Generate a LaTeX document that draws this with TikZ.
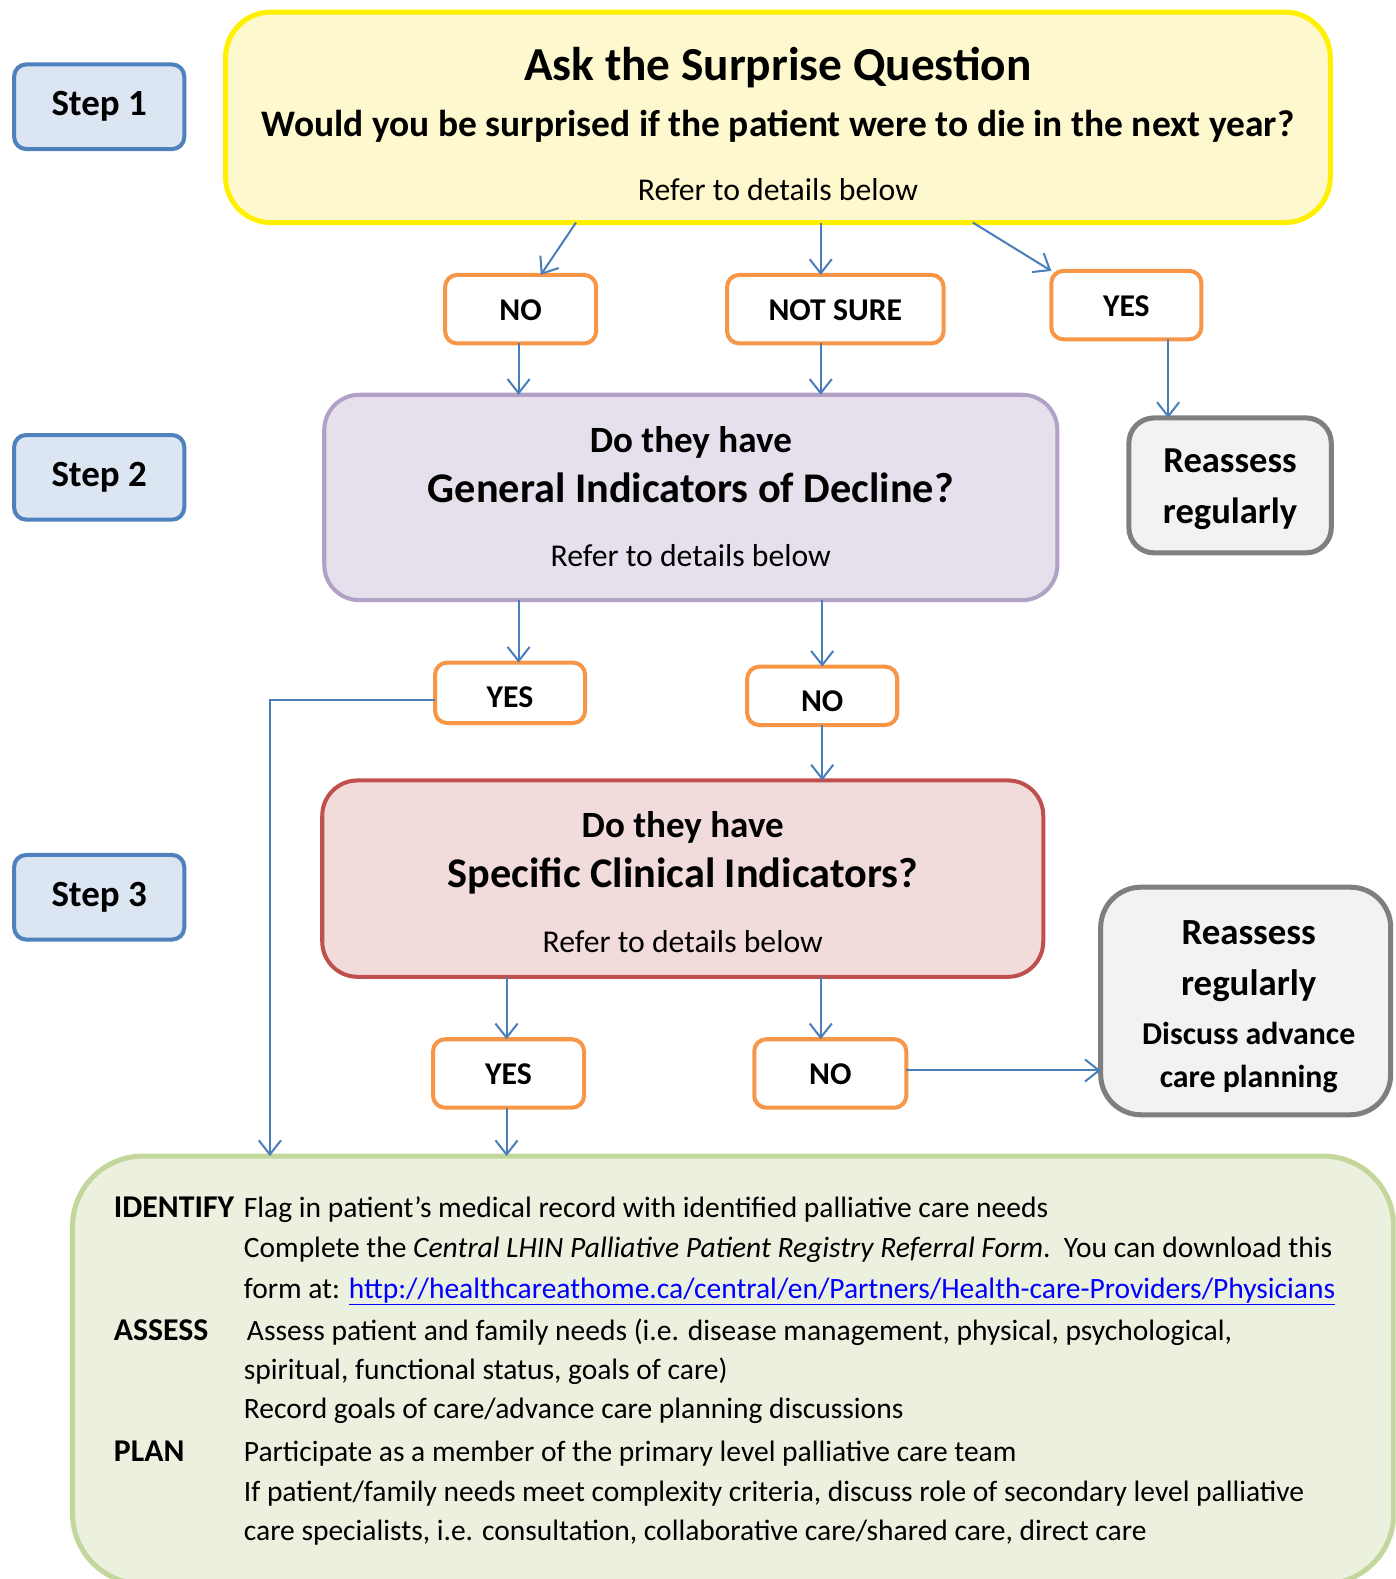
\documentclass[tikz,border=0pt]{standalone}
\usepackage{fontspec}
\setmainfont{Carlito}
\usetikzlibrary{arrows.meta,calc}
\definecolor{yelfill}{RGB}{254,248,206}
\definecolor{yelline}{RGB}{255,240,0}
\definecolor{stepfill}{RGB}{220,230,242}
\definecolor{stepline}{RGB}{79,129,189}
\definecolor{orangeb}{RGB}{247,150,70}
\definecolor{purfill}{RGB}{229,224,236}
\definecolor{purline}{RGB}{178,161,199}
\definecolor{redfill}{RGB}{242,220,219}
\definecolor{redline}{RGB}{192,80,77}
\definecolor{grayfill}{RGB}{242,242,242}
\definecolor{grayline}{RGB}{127,127,127}
\definecolor{grnfill}{RGB}{235,241,222}
\definecolor{grnline}{RGB}{195,214,155}
\definecolor{arrblue}{RGB}{74,126,187}
\definecolor{urlblue}{RGB}{0,0,255}
\newcommand{\fs}[2]{\fontsize{#1}{#2}\selectfont}
\begin{document}
\begin{tikzpicture}[x=1pt,y=-1pt,
  box/.style={draw, rounded corners, inner sep=0pt, outer sep=0pt},
  stepbox/.style={box, fill=stepfill, draw=stepline, line width=4pt, rounded corners=12pt, minimum width=169pt, minimum height=84pt},
  obox/.style={box, fill=white, draw=orangeb, line width=4pt, rounded corners=12pt, minimum height=68pt},
  arr/.style={draw=arrblue, line width=2pt, -{Straight Barb[length=14pt,width=22pt,line width=2pt]}},
  txt/.style={anchor=base, inner sep=0pt},
  lbl/.style={anchor=base west, inner sep=0pt, font=\fs{31.5}{38}\bfseries},
  body/.style={anchor=base west, inner sep=0pt, font=\fs{29.3}{36}},
  steptxt/.style={txt, font=\fs{36.7}{44}\bfseries},
  otxt/.style={txt, font=\fs{31.5}{38}\bfseries}
]
\useasboundingbox (0,0) rectangle (1386,1568);
\clip (0,0) rectangle (1386,1568);

% Step boxes
\node[stepbox] (s1) at (98.5,106) {};
\node[stepbox] (s2) at (98.5,474) {};
\node[stepbox] (s3) at (98.5,891) {};
\node[steptxt] (s1t) at (98.5,115) {Step 1};
\node[steptxt] (s2t) at (98.5,483) {Step 2};
\node[steptxt] (s3t) at (98.5,900) {Step 3};

% Yellow box
\node[box, fill=yelfill, draw=yelline, line width=5pt, rounded corners=45pt, minimum width=1097pt, minimum height=209pt] (yel) at (772.5,116.5) {};
\node[txt, font=\fs{47}{56}\bfseries] (yt1) at (772.5,80) {Ask the Surprise Question};
\node[txt, font=\fs{37.2}{44}\bfseries] (yt2) at (772.5,136) {Would you be surprised if the patient were to die in the next year?};
\node[txt, font=\fs{31.5}{38}] (yt3) at (772.5,199) {Refer to details below};

% Orange row 1
\node[obox, minimum width=150pt] (no1) at (517,307) {};
\node[otxt] (no1t) at (517,318) {NO};
\node[obox, minimum width=215pt] (ns) at (829.5,307) {};
\node[otxt] (nst) at (829.5,318) {NOT SURE};
\node[obox, minimum width=149pt] (yes1) at (1118.5,303) {};
\node[otxt] (yes1t) at (1118.5,314) {YES};

% Purple box
\node[box, fill=purfill, draw=purline, line width=4pt, rounded corners=35pt, minimum width=728pt, minimum height=204pt] (pur) at (686,494) {};
\node[txt, font=\fs{36.8}{44}\bfseries] (pt1) at (686,449) {Do they have};
\node[txt, font=\fs{42}{50}\bfseries] (pt2) at (686,499) {General Indicators of Decline?};
\node[txt, font=\fs{31.5}{38}] (pt3) at (686,563) {Refer to details below};

% Reassess 1
\node[box, fill=grayfill, draw=grayline, line width=5pt, rounded corners=25pt, minimum width=201pt, minimum height=134pt] (re1) at (1221.5,482) {};
\node[txt, font=\fs{36.3}{44}\bfseries] (re1a) at (1221.5,469) {Reassess};
\node[txt, font=\fs{36.3}{44}\bfseries] (re1b) at (1221.5,520) {regularly};

% Orange row 2
\node[obox, minimum width=149pt, minimum height=60pt] (yes2) at (506.5,688) {};
\node[otxt] (yes2t) at (506.5,703) {YES};
\node[obox, minimum width=149pt, minimum height=58pt] (no2) at (816.5,691) {};
\node[otxt] (no2t) at (816.5,707) {NO};

% Red box
\node[box, fill=redfill, draw=redline, line width=4pt, rounded corners=35pt, minimum width=716pt, minimum height=195pt] (red) at (678,872.5) {};
\node[txt, font=\fs{36.8}{44}\bfseries] (rt1) at (678,832) {Do they have};
\node[txt, font=\fs{42}{50}\bfseries] (rt2) at (678,881) {Specific Clinical Indicators?};
\node[txt, font=\fs{31.5}{38}] (rt3) at (678,946) {Refer to details below};

% Orange row 3
\node[obox, minimum width=150pt] (yes3) at (505,1066) {};
\node[otxt] (yes3t) at (505,1077) {YES};
\node[obox, minimum width=151pt] (no3) at (824.5,1066) {};
\node[otxt] (no3t) at (824.5,1077) {NO};

% Reassess 2
\node[box, fill=grayfill, draw=grayline, line width=5pt, rounded corners=40pt, minimum width=288pt, minimum height=226pt] (re2) at (1237,994) {};
\node[txt, font=\fs{36.6}{44}\bfseries] (re2a) at (1240,938) {Reassess};
\node[txt, font=\fs{36.6}{44}\bfseries] (re2b) at (1240,989) {regularly};
\node[txt, font=\fs{31.6}{38}\bfseries] (re2c) at (1240,1037) {Discuss advance};
\node[txt, font=\fs{31.6}{38}\bfseries] (re2d) at (1240,1080) {care planning};

% Green box
\node[box, fill=grnfill, draw=grnline, line width=5pt, rounded corners=70pt, minimum width=1312pt, minimum height=425pt] (grn) at (728,1360.5) {};
\node[lbl] (l1) at (113,1209) {IDENTIFY};
\node[lbl] (l2) at (113,1331) {ASSESS};
\node[lbl] (l3) at (113,1451) {PLAN};
\node[body] (b1) at (242,1209) {Flag in patient’s medical record with identified palliative care needs};
\node[body] (b2) at (242,1249) {Complete the \textit{Central LHIN Palliative Patient Registry Referral Form}.\ \ You can download this};
\node[body] (b3) at (242,1289) {form at: \textcolor{urlblue}{\underline{http://healthcareathome.ca/central/en/Partners/Health-care-Providers/Physicians}}};
\node[body] (b4) at (245,1331) {Assess patient and family needs (i.e. disease management, physical, psychological,};
\node[body] (b5) at (242,1370) {spiritual, functional status, goals of care)};
\node[body] (b6) at (242,1409) {Record goals of care/advance care planning discussions};
\node[body] (b7) at (242,1451) {Participate as a member of the primary level palliative care team};
\node[body] (b8) at (242,1491) {If patient/family needs meet complexity criteria, discuss role of secondary level palliative};
\node[body] (b9) at (242,1530) {care specialists, i.e. consultation, collaborative care/shared care, direct care};

% Connectors
\coordinate (ya) at ([xshift=-200.5pt]yel.south);
\coordinate (yb) at ([xshift=42.5pt]yel.south);
\coordinate (yc) at ([xshift=193.5pt]yel.south);
\draw[arr] (ya) -- ([xshift=20pt]no1.north);
\draw[arr] (yb) -- (yb |- ns.north);
\draw[arr] (yc) -- (yes1.north west);

\coordinate (na) at ([xshift=-2pt]no1.south);
\draw[arr] (na) -- (na |- pur.north);
\coordinate (nb) at ([xshift=-14.5pt]ns.south);
\draw[arr] (nb) -- (nb |- pur.north);
\coordinate (ye) at ([xshift=41.5pt]yes1.south);
\draw[arr] (ye) -- (ye |- re1.north);

\coordinate (pa) at ([xshift=8.5pt]yes2.north);
\draw[arr] (pa |- pur.south) -- (pa);
\draw[arr] (no2.north |- pur.south) -- (no2.north);

\coordinate (yw) at ([yshift=-7pt]yes2.west);
\coordinate (gl) at (268,1148);
\draw[arr] (yw) -| (gl);

\draw[arr] (no2.south) -- (no2.south |- red.north);
\coordinate (ra) at ([xshift=-2pt]yes3.north);
\draw[arr] (ra |- red.south) -- (ra);
\coordinate (rb) at ([xshift=-9.5pt]no3.north);
\draw[arr] (rb |- red.south) -- (rb);
\coordinate (yg) at ([xshift=-2pt]yes3.south);
\draw[arr] (yg) -- (yg |- grn.north);
\coordinate (nr) at ([yshift=3pt]no3.east);
\draw[arr] (nr) -- (nr -| re2.west);
\end{tikzpicture}
\end{document}
